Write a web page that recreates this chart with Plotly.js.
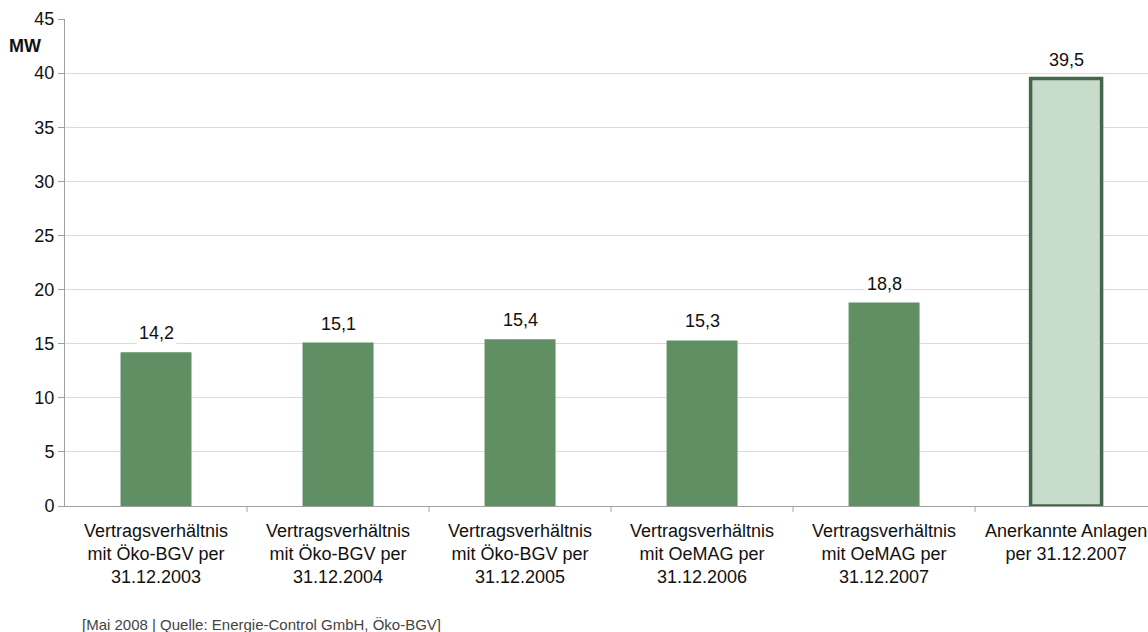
<!DOCTYPE html>
<html><head><meta charset="utf-8">
<script src="https://cdn.plot.ly/plotly-3.0.1.min.js"></script>
<style>html,body{margin:0;padding:0;background:#fff}#c{width:1148px;height:632px}</style>
</head><body><div id="c"></div>
<script>
const categories = [
  "Vertragsverhältnis<br>mit Öko-BGV per<br>31.12.2003",
  "Vertragsverhältnis<br>mit Öko-BGV per<br>31.12.2004",
  "Vertragsverhältnis<br>mit Öko-BGV per<br>31.12.2005",
  "Vertragsverhältnis<br>mit OeMAG per<br>31.12.2006",
  "Vertragsverhältnis<br>mit OeMAG per<br>31.12.2007",
  "Anerkannte Anlagen<br>per 31.12.2007"
];
const values = [14.2, 15.1, 15.4, 15.3, 18.8, 39.5];
const yTicks = [0, 5, 10, 15, 20, 25, 30, 35, 40, 45];
const yUnit = "MW";
const sourceText = "[Mai 2008 | Quelle: Energie-Control GmbH, Öko-BGV]";

const FONT = "Liberation Sans, Arial, sans-serif";
const fills = values.map((v, i) => i === values.length - 1 ? "#c8dccb" : "#5f8f63");
const lineCols = values.map((v, i) => i === values.length - 1 ? "#44664a" : "#5f8f63");
const lineW = values.map((v, i) => i === values.length - 1 ? 3.5 : 0);

const trace = {
  type: "bar",
  x: categories.map((c, i) => i),
  y: values,
  width: 0.39,
  marker: { color: fills, line: { color: lineCols, width: lineW } },
  hoverinfo: "none"
};

const fmt = v => v.toFixed(1).replace(".", ",");
const annotations = values.map((v, i) => ({
  x: i, y: v, xref: "x", yref: "y",
  text: fmt(v), showarrow: false, yanchor: "bottom", yshift: 6,
  bgcolor: "#ffffff", borderpad: 2,
  font: { family: FONT, size: 18, color: "#111" }
}));
annotations.push({
  xref: "paper", yref: "paper", x: -0.02, y: 0.944, xanchor: "right", yanchor: "middle",
  text: "<b>" + yUnit + "</b>", showarrow: false,
  font: { family: FONT, size: 18, color: "#111" }
});
annotations.push({
  xref: "paper", yref: "paper", x: 0.014, y: -0.244, xanchor: "left", yanchor: "middle",
  text: sourceText, showarrow: false,
  font: { family: FONT, size: 15, color: "#444" }
});

const layout = {
  width: 1148, height: 632,
  margin: { l: 65, r: 0, t: 19, b: 126 },
  paper_bgcolor: "#fff", plot_bgcolor: "#fff",
  showlegend: false,
  font: { family: FONT, size: 18, color: "#111" },
  xaxis: {
    type: "linear",
    range: [-0.5, 5.45],
    tickmode: "array",
    tickvals: categories.map((c, i) => i),
    ticktext: categories,
    showgrid: false, zeroline: false,
    showline: true, linecolor: "#a0a0a0", linewidth: 1,
    ticks: "outside", ticklen: 8, tickcolor: "rgba(0,0,0,0)",
    automargin: false,
    tickfont: { family: FONT, size: 18, color: "#111" }
  },
  yaxis: {
    range: [0, 45],
    tickmode: "array", tickvals: yTicks, ticktext: yTicks.map(String),
    showgrid: true, gridcolor: "#d0e2d3", gridwidth: 1,
    zeroline: false,
    showline: true, linecolor: "#a0a0a0", linewidth: 1,
    ticks: "outside", ticklen: 6, tickcolor: "#a0a0a0",
    automargin: false,
    tickfont: { family: FONT, size: 18, color: "#111" }
  },
  shapes: [1, 2, 3, 4, 5].map(k => ({
    type: "line", xref: "x", yref: "paper",
    x0: k - 0.5, x1: k - 0.5, y0: 0, y1: -0.012,
    line: { color: "#a0a0a0", width: 1 }
  })),
  annotations: annotations
};

Plotly.newPlot("c", [trace], layout, { displayModeBar: false, staticPlot: true });
</script>
</body></html>
